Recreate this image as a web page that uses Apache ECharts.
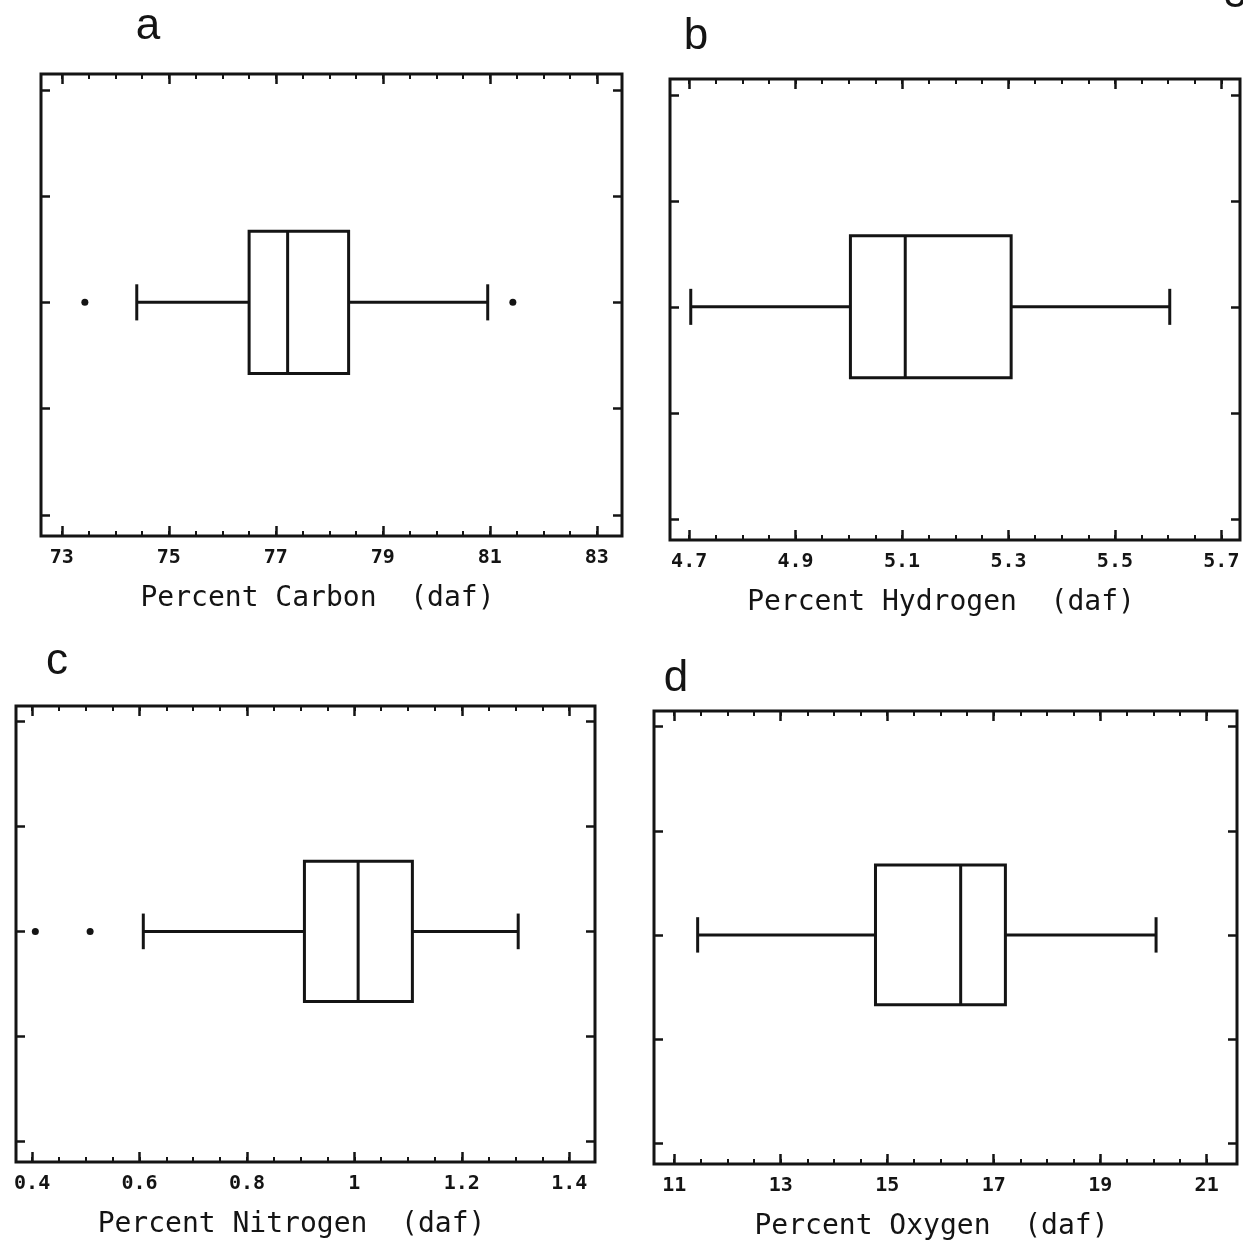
<!DOCTYPE html>
<html><head><meta charset="utf-8">
<script src="https://cdn.jsdelivr.net/npm/echarts@6/dist/echarts.min.js"></script>
<style>html,body{margin:0;padding:0;background:#fff}#chart{width:1243px;height:1243px}</style>
</head><body><div id="chart"></div>
<script>
// ---------------- data ----------------
const panelLetters = ['a', 'b', 'c', 'd'];
const axisTitles = ['Percent Carbon  (daf)', 'Percent Hydrogen  (daf)', 'Percent Nitrogen  (daf)', 'Percent Oxygen  (daf)'];

const carbonTicks   = [73, 75, 77, 79, 81, 83];
const hydrogenTicks = [4.7, 4.9, 5.1, 5.3, 5.5, 5.7];
const nitrogenTicks = [0.4, 0.6, 0.8, 1, 1.2, 1.4];
const oxygenTicks   = [11, 13, 15, 17, 19, 21];

const carbonMinorTicks   = [73, 73.5, 74, 74.5, 75, 75.5, 76, 76.5, 77, 77.5, 78, 78.5, 79, 79.5, 80, 80.5, 81, 81.5, 82, 82.5, 83];
const hydrogenMinorTicks = [4.7, 4.75, 4.8, 4.85, 4.9, 4.95, 5.0, 5.05, 5.1, 5.15, 5.2, 5.25, 5.3, 5.35, 5.4, 5.45, 5.5, 5.55, 5.6, 5.65, 5.7];
const nitrogenMinorTicks = [0.4, 0.45, 0.5, 0.55, 0.6, 0.65, 0.7, 0.75, 0.8, 0.85, 0.9, 0.95, 1.0, 1.05, 1.1, 1.15, 1.2, 1.25, 1.3, 1.35, 1.4];
const oxygenMinorTicks   = [11, 11.5, 12, 12.5, 13, 13.5, 14, 14.5, 15, 15.5, 16, 16.5, 17, 17.5, 18, 18.5, 19, 19.5, 20, 20.5, 21];

const rowTicks = [0, 1, 2, 3, 4];

// five-number summaries: [lower whisker, Q1, median, Q3, upper whisker]
const carbonBox   = [74.40, 76.50, 77.22, 78.36, 80.96];
const hydrogenBox = [4.703, 5.003, 5.106, 5.305, 5.603];
const nitrogenBox = [0.607, 0.907, 1.007, 1.108, 1.305];
const oxygenBox   = [11.44, 14.78, 16.38, 17.22, 20.05];

const carbonOutliers   = [73.43, 81.43];
const hydrogenOutliers = [];
const nitrogenOutliers = [0.406, 0.508];
const oxygenOutliers   = [];

// ---------------- layout / style ----------------
const INK = '#141414';
const BOX_ROW = 2, BOX_HALF = 0.67, CAP_HALF = 0.17;
const Y_MIN = -0.2, Y_MAX = 4.15;

const panels = [
  { ticks: carbonTicks,   minor: carbonMinorTicks,   box: carbonBox,   out: carbonOutliers,   min: 72.61, max: 83.47, rect: [41, 74, 581, 462],  letter: [148, 27] },
  { ticks: hydrogenTicks, minor: hydrogenMinorTicks, box: hydrogenBox, out: hydrogenOutliers, min: 4.664, max: 5.735, rect: [670, 79, 570, 461], letter: [696, 37] },
  { ticks: nitrogenTicks, minor: nitrogenMinorTicks, box: nitrogenBox, out: nitrogenOutliers, min: 0.370, max: 1.448, rect: [16, 706, 579, 456], letter: [57, 662] },
  { ticks: oxygenTicks,   minor: oxygenMinorTicks,   box: oxygenBox,   out: oxygenOutliers,   min: 10.62, max: 21.57, rect: [654, 711, 583, 453], letter: [676, 679] }
];

function renderBox(params, api) {
  const row = api.value(0);
  const v = [api.value(1), api.value(2), api.value(3), api.value(4), api.value(5)];
  const X = val => api.coord([val, row])[0];
  const yc = api.coord([v[0], row])[1];
  const yTop = api.coord([v[0], row + BOX_HALF])[1];
  const yBot = api.coord([v[0], row - BOX_HALF])[1];
  const cTop = api.coord([v[0], row + CAP_HALF])[1];
  const cBot = api.coord([v[0], row - CAP_HALF])[1];
  const st = { stroke: INK, lineWidth: 3, fill: 'none' };
  return { type: 'group', children: [
    { type: 'rect', shape: { x: X(v[1]), y: yTop, width: X(v[3]) - X(v[1]), height: yBot - yTop }, style: st },
    { type: 'line', shape: { x1: X(v[2]), y1: yTop, x2: X(v[2]), y2: yBot }, style: st },
    { type: 'line', shape: { x1: X(v[0]), y1: yc, x2: X(v[1]), y2: yc }, style: st },
    { type: 'line', shape: { x1: X(v[3]), y1: yc, x2: X(v[4]), y2: yc }, style: st },
    { type: 'line', shape: { x1: X(v[0]), y1: cTop, x2: X(v[0]), y2: cBot }, style: st },
    { type: 'line', shape: { x1: X(v[4]), y1: cTop, x2: X(v[4]), y2: cBot }, style: st }
  ]};
}

const grid = [], xAxis = [], yAxis = [], series = [], graphic = [];

panels.forEach((p, i) => {
  const [l, t, w, h] = p.rect;
  grid.push({ left: l, top: t, width: w, height: h, show: true, borderColor: INK, borderWidth: 3, backgroundColor: 'transparent' });
  const baseX = { type: 'value', gridIndex: i, min: p.min, max: p.max, axisLine: { show: false, onZero: false }, splitLine: { show: false } };
  const xb = xAxis.length;
  xAxis.push(Object.assign({}, baseX, {
    position: 'bottom',
    axisTick: { show: true, inside: true, length: 10, customValues: p.ticks, lineStyle: { color: INK, width: 2.5 } },
    axisLabel: { show: true, customValues: p.ticks, margin: 12, color: INK, fontFamily: 'DejaVu Sans Mono', fontWeight: 'bold', fontSize: 20 },
    name: axisTitles[i], nameLocation: 'middle', nameGap: 49,
    nameTextStyle: { color: INK, fontFamily: 'DejaVu Sans Mono', fontSize: 28, padding: [0, 28, 0, 0] }
  }));
  xAxis.push(Object.assign({}, baseX, { position: 'bottom',
    axisTick: { show: true, inside: true, length: 5, customValues: p.minor, lineStyle: { color: INK, width: 2 } },
    axisLabel: { show: false } }));
  xAxis.push(Object.assign({}, baseX, { position: 'top',
    axisTick: { show: true, inside: true, length: 10, customValues: p.ticks, lineStyle: { color: INK, width: 2.5 } },
    axisLabel: { show: false } }));
  xAxis.push(Object.assign({}, baseX, { position: 'top',
    axisTick: { show: true, inside: true, length: 5, customValues: p.minor, lineStyle: { color: INK, width: 2 } },
    axisLabel: { show: false } }));
  const yl = yAxis.length;
  ['left', 'right'].forEach(pos => {
    yAxis.push({ type: 'value', gridIndex: i, min: Y_MIN, max: Y_MAX, position: pos,
      axisLine: { show: false, onZero: false }, splitLine: { show: false },
      axisTick: { show: true, inside: true, length: 9, customValues: rowTicks, lineStyle: { color: INK, width: 2.5 } },
      axisLabel: { show: false } });
  });
  series.push({ type: 'custom', xAxisIndex: xb, yAxisIndex: yl, renderItem: renderBox,
    encode: { x: [1, 2, 3, 4, 5], y: 0 }, data: [[BOX_ROW].concat(p.box)], silent: true, z: 5 });
  series.push({ type: 'scatter', xAxisIndex: xb, yAxisIndex: yl, symbol: 'circle', symbolSize: 7,
    itemStyle: { color: INK, opacity: 1 }, data: p.out.map(v => [v, BOX_ROW]), silent: true, z: 6 });
  graphic.push({ type: 'text', x: p.letter[0], y: p.letter[1],
    style: { text: panelLetters[i], fill: INK, font: '44px "Liberation Sans", Arial, sans-serif', textAlign: 'center', textVerticalAlign: 'middle', align: 'center', verticalAlign: 'middle' } });
});
graphic.push({ type: 'text', x: 1224, y: -4,
  style: { text: '3.', fill: INK, font: '40px "Liberation Sans", Arial, sans-serif', textAlign: 'left', textVerticalAlign: 'middle', align: 'left', verticalAlign: 'middle' } });

const chart = echarts.init(document.getElementById('chart'), null, { renderer: 'canvas' });
chart.setOption({ animation: false, backgroundColor: '#ffffff', grid, xAxis, yAxis, series, graphic });
</script></body></html>
